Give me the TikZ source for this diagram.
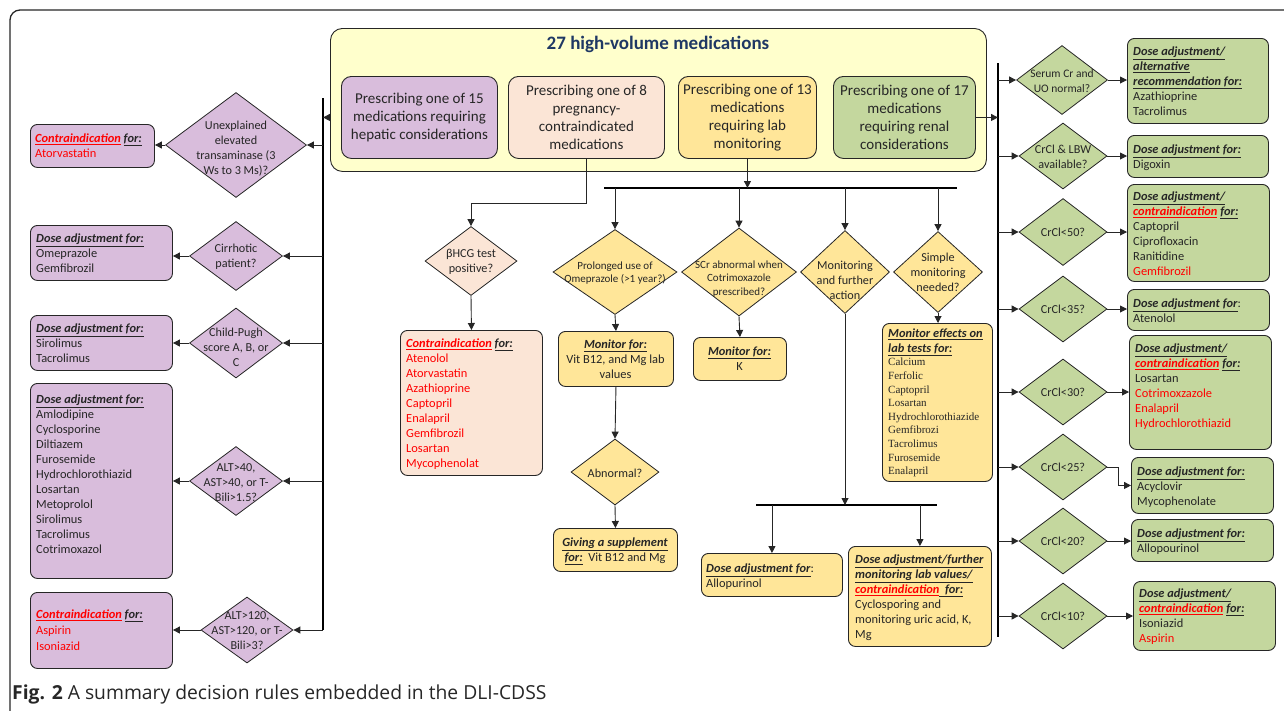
\documentclass[tikz,border=0pt]{standalone}
\usepackage{fontspec}
\setmainfont{Carlito}
\newfontfamily\tms{Liberation Serif}
\newfontfamily\capf{Open Sans}
\usetikzlibrary{shapes.geometric,arrows.meta,calc}
\definecolor{purp}{HTML}{D9BDDC}
\definecolor{pnk}{HTML}{FBE5D6}
\definecolor{gold}{HTML}{FFE699}
\definecolor{grn}{HTML}{C4D79E}
\definecolor{ylw}{HTML}{FFFFCC}
\definecolor{navy}{HTML}{1F3864}
\definecolor{ink}{HTML}{262626}
\definecolor{rd}{HTML}{FF0000}
\newcommand\myhd[1]{\textbf{\textit{\underline{#1}}}}
\newcommand\redhd[1]{{\color{rd}\myhd{#1}}}
\newcommand\redt[1]{{\color{rd}#1}}
\begin{document}
\begin{tikzpicture}[x=1pt,y=-1pt,
  bx/.style={draw=ink, line width=0.9pt, rounded corners=7pt, anchor=north west, inner sep=0pt},
  dm/.style={diamond, draw=ink, line width=0.8pt, inner sep=0pt},
  tx/.style={inner sep=0pt, align=left, anchor=north west, text=ink, font=\fontsize{12.4}{15}\selectfont},
  dt/.style={inner sep=0pt, align=center, text=ink, font=\fontsize{12.2}{15}\selectfont},
  arr/.style={draw=ink, line width=0.9pt, -{Triangle[length=7pt,width=7pt]}},
  barl/.style={draw=black, line width=2.4pt},
  top/.style={bx, rounded corners=10pt, minimum height=82pt, align=center, text=ink, font=\fontsize{15}{18}\selectfont},
]
\useasboundingbox (0,0) rectangle (1284,710);
\draw[line width=1.3pt, draw=black!85, rounded corners=10pt] (10,730) -- (10,10) -- (1300,10);

% ---------- top block ----------
\node[bx, fill=ylw, rounded corners=12pt, minimum width=656pt, minimum height=143pt] (yb) at (330,28) {};
\node[font=\bfseries\fontsize{19}{22}\selectfont, text=navy, inner sep=0pt] (ttl) at (658,44) {27 high-volume medications};
\node[top, fill=purp, minimum width=156pt] (tp) at (341,76) {Prescribing one of 15\\medications requiring\\hepatic considerations};
\node[top, fill=pnk, minimum width=156pt] (pk) at (508,76) {Prescribing one of 8\\pregnancy-\\contraindicated\\medications};
\node[top, fill=gold, minimum width=138pt] (og) at (678,76) {Prescribing one of 13\\medications\\requiring lab\\monitoring};
\node[top, fill=grn, minimum width=142pt] (gn) at (833,76) {Prescribing one of 17\\medications\\requiring renal\\considerations};

% ---------- bars ----------
\coordinate (lbar) at (323,98);
\coordinate (lbarb) at (323,630);
\draw[barl, line width=2pt] (lbar) -- (lbarb);
\coordinate (rbar) at (998,63);
\coordinate (rbarb) at (998,637);
\draw[barl] (rbar) -- (rbarb);
\coordinate (mbarL) at (604,188);
\coordinate (mbarR) at (957,188);
\draw[barl] (mbarL) -- (mbarR);
\coordinate (bbarL) at (756,505);
\coordinate (bbarR) at (937,505);
\draw[barl] (bbarL) -- (bbarR);

% ---------- left column ----------
\node[dm, fill=purp, minimum width=141pt, minimum height=105pt] (dL1) at (236,145) {};
\node[dt] (dL1t) at (236,148.5) {Unexplained\\elevated\\transaminase (3\\Ws to 3 Ms)?};
\node[dm, fill=purp, minimum width=93pt, minimum height=69pt] (dL2) at (236,256) {};
\node[dt] (dL2t) at (236,257) {Cirrhotic\\patient?};
\node[dm, fill=purp, minimum width=93pt, minimum height=70pt] (dL3) at (236,343) {};
\node[dt] (dL3t) at (236,347.5) {Child-Pugh\\score A, B, or\\C};
\node[dm, fill=purp, minimum width=93pt, minimum height=69pt] (dL4) at (236,481) {};
\node[dt] (dL4t) at (236,482.5) {ALT>40,\\AST>40, or T-\\Bili>1.5?};
\node[dm, fill=purp, minimum width=92pt, minimum height=66pt] (dL5) at (247,630) {};
\node[dt] (dL5t) at (247,631) {ALT>120,\\AST>120, or T-\\Bili>3?};

\node[bx, fill=purp, minimum width=124pt, minimum height=43pt] (b1) at (30,124) {};
\node[tx] (b1t) at (35,133.5) {\redhd{Contraindication} \myhd{for:}\\\redt{Atorvastatin}};
\node[bx, fill=purp, minimum width=142pt, minimum height=55pt] (b2) at (30,225) {};
\node[tx] (b2t) at (36,233.5) {\myhd{Dose adjustment for:}\\Omeprazole\\Gemfibrozil};
\node[bx, fill=purp, minimum width=142pt, minimum height=55pt] (b3) at (30,315) {};
\node[tx] (b3t) at (36,323.5) {\myhd{Dose adjustment for:}\\Sirolimus\\Tacrolimus};
\node[bx, fill=purp, minimum width=142pt, minimum height=195pt] (b4) at (30,383) {};
\node[tx] (b4t) at (36,394.5) {\myhd{Dose adjustment for:}\\Amlodipine\\Cyclosporine\\Diltiazem\\Furosemide\\Hydrochlorothiazid\\Losartan\\Metoprolol\\Sirolimus\\Tacrolimus\\Cotrimoxazol};
\node[bx, fill=purp, minimum width=142pt, minimum height=76pt] (b5) at (30,592) {};
\node[tx, font=\fontsize{12.4}{16}\selectfont] (b5t) at (36,609.5) {\redhd{Contraindication} \myhd{for:}\\\redt{Aspirin}\\\redt{Isoniazid}};

\draw[arr] (yb.west |- tp.west) -- (tp.west -| lbar);
\foreach \d/\b in {dL1/b1,dL2/b2,dL3/b3,dL4/b4,dL5/b5}{
  \draw[arr] (\d.east -| lbar) -- (\d.east);
  \draw[arr] (\d.west) -- (\d.west -| \b.east);
}

% ---------- middle ----------
\node[dm, fill=pnk, minimum width=92pt, minimum height=69pt] (dB) at (471,261) {};
\node[dt] (dBt) at (471,262) {βHCG test\\positive?};
\node[bx, fill=pnk, minimum width=142pt, minimum height=145pt] (pk2) at (400,330) {};
\node[tx] (pk2t) at (406,338.5) {\redhd{Contraindication} \myhd{for:}\\\redt{Atenolol}\\\redt{Atorvastatin}\\\redt{Azathioprine}\\\redt{Captopril}\\\redt{Enalapril}\\\redt{Gemfibrozil}\\\redt{Losartan}\\\redt{Mycophenolat}};
\draw[arr] (pk.south) -- ++(0,45) -| (dB.north);
\draw[arr] (dB.south) -- (pk2.north);

\draw[arr] (og.south) -- (og.south |- mbarL);

\node[dm, fill=gold, minimum width=124pt, minimum height=85pt] (dP) at (615,272) {};
\node[dt, font=\fontsize{11}{13.5}\selectfont] (dPt) at (615,273) {Prolonged use of\\Omeprazole (>1 year?)};
\node[bx, fill=gold, minimum width=115pt, minimum height=55pt] (mB) at (558,331) {};
\node[tx, anchor=north, align=center] (mBt) at (615.5,339.5) {\myhd{Monitor for:}\\Vit B12, and Mg lab\\values};
\node[dm, fill=gold, minimum width=88pt, minimum height=66pt] (dA) at (615,472) {};
\node[dt] (dAt) at (615,473) {Abnormal?};
\node[bx, fill=gold, minimum width=124pt, minimum height=43pt] (gv) at (553,528) {};
\node[tx, anchor=north, align=center] (gvt) at (615,537.5) {\myhd{Giving a supplement}\\\myhd{for:}~ Vit B12 and Mg};

\node[dm, fill=gold, minimum width=115pt, minimum height=88pt] (dS) at (739,272) {};
\node[dt, font=\fontsize{11}{13.5}\selectfont] (dSt) at (739,279) {SCr abnormal when\\Cotrimoxazole\\prescribed?};
\node[bx, fill=gold, minimum width=93pt, minimum height=43pt] (mK) at (693,337) {};
\node[tx, anchor=north, align=center] (mKt) at (739.5,346.5) {\myhd{Monitor for:}\\K};

\node[dm, fill=gold, minimum width=89pt, minimum height=83pt] (dM) at (845,272) {};
\node[dt] (dMt) at (845,280.5) {Monitoring\\and further\\action};

\node[dm, fill=gold, minimum width=89pt, minimum height=81pt] (dSM) at (938,272) {};
\node[dt] (dSMt) at (938,272.5) {Simple\\monitoring\\needed?};
\node[bx, fill=gold, minimum width=110pt, minimum height=158pt] (mE) at (882,323) {};
\node[tx] (mEt) at (888,328.5) {\myhd{Monitor effects on}\\\myhd{lab tests for:}};
\node[tx, font=\tms\fontsize{11}{13.6}\selectfont] (mEl) at (888,358) {Calcium\\Ferfolic\\Captopril\\Losartan\\Hydrochlorothiazide\\Gemfibrozi\\Tacrolimus\\Furosemide\\Enalapril};

\node[bx, fill=gold, minimum width=141pt, minimum height=43pt] (al) at (701,553) {};
\node[tx] (alt) at (706,563.5) {\myhd{Dose adjustment for}:\\Allopurinol};
\node[bx, fill=gold, minimum width=143pt, minimum height=100pt] (fu) at (848,546) {};
\node[tx] (fut) at (855,554.5) {\myhd{Dose adjustment/further}\\\myhd{monitoring lab values/}\\\redhd{contraindication}\myhd{\ \ for:}\\Cyclosporing and\\monitoring uric acid, K,\\Mg};

\foreach \d in {dP,dS,dM,dSM}{
  \draw[arr] (\d.north |- mbarL) -- (\d.north);
}
\draw[arr] (dP.south) -- (mB.north);
\draw[arr] (mB.south) -- (dA.north);
\draw[arr] (dA.south) -- (gv.north);
\draw[arr] (dS.south) -- (mK.north);
\draw[arr] (dSM.south) -- (dSM.south |- mE.north);
\draw[arr] (dM.south) -- (dM.south |- bbarL);
\draw[arr] (al.north |- bbarL) -- (al.north);
\draw[arr] (fu.north |- bbarL) -- (fu.north);

% ---------- right column ----------
\draw[arr] (gn.east) -- (gn.east -| rbar);

\node[dm, fill=grn, minimum width=91pt, minimum height=69pt] (dR1) at (1062,80) {};
\node[dt, font=\fontsize{11.5}{15}\selectfont] (dR1t) at (1062,81) {Serum Cr and\\UO normal?};
\node[dm, fill=grn, minimum width=88pt, minimum height=66pt] (dR2) at (1063,156) {};
\node[dt] (dR2t) at (1063,157) {CrCl \& LBW\\available?};
\node[dm, fill=grn, minimum width=88pt, minimum height=67pt] (dR3) at (1063,232) {};
\node[dt] (dR3t) at (1063,232.5) {CrCl<50?};
\node[dm, fill=grn, minimum width=88pt, minimum height=66pt] (dR4) at (1063,309) {};
\node[dt] (dR4t) at (1063,309.5) {CrCl<35?};
\node[dm, fill=grn, minimum width=88pt, minimum height=66pt] (dR5) at (1063,392) {};
\node[dt] (dR5t) at (1063,392.5) {CrCl<30?};
\node[dm, fill=grn, minimum width=88pt, minimum height=66pt] (dR6) at (1063,467) {};
\node[dt] (dR6t) at (1063,467.5) {CrCl<25?};
\node[dm, fill=grn, minimum width=88pt, minimum height=66pt] (dR7) at (1063,541) {};
\node[dt] (dR7t) at (1063,541.5) {CrCl<20?};
\node[dm, fill=grn, minimum width=88pt, minimum height=66pt] (dR8) at (1063,616) {};
\node[dt] (dR8t) at (1063,616.5) {CrCl<10?};

\node[bx, fill=grn, minimum width=141pt, minimum height=85pt] (R1) at (1127,38) {};
\node[tx] (R1t) at (1133,46.5) {\myhd{Dose adjustment/}\\\myhd{alternative}\\\myhd{recommendation for:}\\Azathioprine\\Tacrolimus};
\node[bx, fill=grn, minimum width=141pt, minimum height=42pt] (R2) at (1127,135) {};
\node[tx] (R2t) at (1133,144.5) {\myhd{Dose adjustment for:}\\Digoxin};
\node[bx, fill=grn, minimum width=142pt, minimum height=97pt] (R3) at (1127,184) {};
\node[tx] (R3t) at (1133,191.5) {\myhd{Dose adjustment/}\\\redhd{contraindication} \myhd{for:}\\Captopril\\Ciprofloxacin\\Ranitidine\\\redt{Gemfibrozil}};
\node[bx, fill=grn, minimum width=142pt, minimum height=41pt] (R4) at (1127,289) {};
\node[tx] (R4t) at (1133,298.5) {\myhd{Dose adjustment for}:\\Atenolol};
\node[bx, fill=grn, minimum width=142pt, minimum height=114pt] (R5) at (1129,335) {};
\node[tx] (R5t) at (1135,343.5) {\myhd{Dose adjustment/}\\\redhd{contraindication} \myhd{for:}\\Losartan\\\redt{Cotrimoxzazole}\\\redt{Enalapril}\\\redt{Hydrochlorothiazid}};
\node[bx, fill=grn, minimum width=142pt, minimum height=56pt] (R6) at (1131,457) {};
\node[tx] (R6t) at (1137,466.5) {\myhd{Dose adjustment for:}\\Acyclovir\\Mycophenolate};
\node[bx, fill=grn, minimum width=142pt, minimum height=42pt] (R7) at (1131,519) {};
\node[tx] (R7t) at (1137,528.5) {\myhd{Dose adjustment for:}\\Allopourinol};
\node[bx, fill=grn, minimum width=142pt, minimum height=69pt] (R8) at (1133,581) {};
\node[tx] (R8t) at (1139,588.5) {\myhd{Dose adjustment/}\\\redhd{contraindication} \myhd{for:}\\Isoniazid\\\redt{Aspirin}};

\foreach \d/\b in {dR1/R1,dR2/R2,dR3/R3,dR4/R4,dR5/R5,dR7/R7,dR8/R8}{
  \draw[arr] (\d.west -| rbar) -- (\d.west);
  \draw[arr] (\d.east) -- (\d.east -| \b.west);
}
\draw[arr] (dR6.west -| rbar) -- (dR6.west);
\draw[arr] (dR6.east) -- ++(11,0) |- (R6.west);

% ---------- caption ----------
\node[anchor=base west, inner sep=0pt, font=\capf\fontsize{19.3}{22}\selectfont, text=black!85] (cap) at (12,699) {\textbf{Fig. 2} A summary decision rules embedded in the DLI-CDSS};
\end{tikzpicture}
\end{document}
